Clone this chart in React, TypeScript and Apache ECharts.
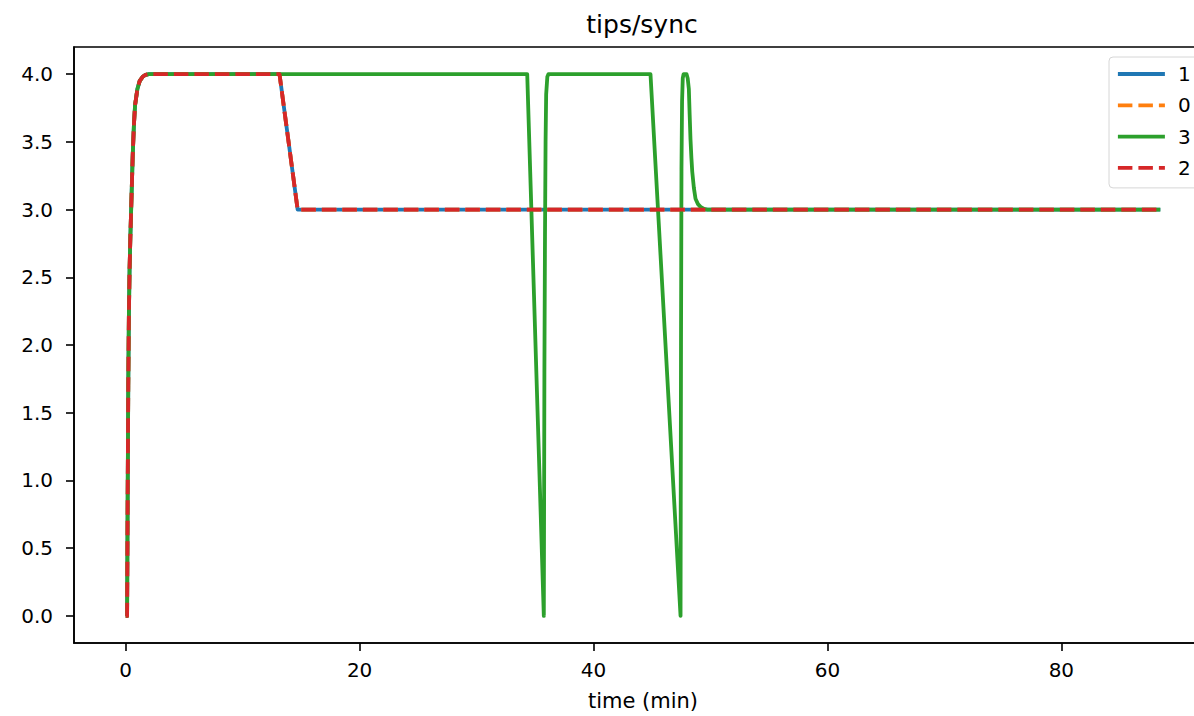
import React, { useEffect, useRef } from "react";
import * as echarts from "echarts";

// Series names in legend order
const seriesNames = ["1", "0", "3", "2"];
const seriesColors = ["#1f77b4", "#ff7f0e", "#2ca02c", "#d62728"];
const seriesDashed = [false, true, false, true];

// Shared trace for series 1, 0 and 2
const timesA = [0, 0.12, 0.17, 0.22, 0.27, 0.33, 0.4, 0.5, 0.6, 0.7, 0.8, 1.0, 1.2, 1.45, 1.7, 2.0, 13.15, 14.7, 88.46];
const valuesA = [0, 0, 0.9, 1.7, 2.2, 2.55, 2.8, 3.1, 3.4, 3.62, 3.77, 3.89, 3.95, 3.98, 3.995, 4.0, 4.0, 3.0, 3.0];

// Trace for series 3
const timesB = [0, 0.12, 0.17, 0.22, 0.27, 0.33, 0.4, 0.5, 0.6, 0.7, 0.8, 1.0, 1.2, 1.45, 1.7, 2.0,
  34.33, 35.75, 35.8, 35.85, 35.9, 35.95, 36.05, 36.15,
  44.87, 47.44, 47.48, 47.52, 47.57, 47.63, 47.7, 47.95, 48.05, 48.15, 48.22, 48.29, 48.37, 48.44, 48.58, 48.72, 48.93, 49.15, 49.45, 49.75, 88.46];
const valuesB = [0, 0, 0.9, 1.7, 2.2, 2.55, 2.8, 3.1, 3.4, 3.62, 3.77, 3.89, 3.95, 3.98, 3.995, 4.0,
  4.0, 0, 1.8, 2.8, 3.5, 3.85, 3.98, 4.0,
  4.0, 0, 2.0, 3.3, 3.8, 3.97, 4.0, 4.0, 3.97, 3.89, 3.7, 3.52, 3.38, 3.28, 3.16, 3.08, 3.04, 3.02, 3.005, 3.0, 3.0];

const xTicks = [0, 20, 40, 60, 80];
const yTicks = [0, 0.5, 1.0, 1.5, 2.0, 2.5, 3.0, 3.5, 4.0];

const titleText = "tips/sync";
const xAxisName = "time (min)";

const FONT = "DejaVu Sans";
const LINE_W = 3.8;

function zip(ts: number[], vs: number[]) {
  return ts.map((t, i) => [t, vs[i]]);
}

export default function App() {
  const ref = useRef<HTMLDivElement>(null);
  useEffect(() => {
    if (!ref.current) return;
    const chart = echarts.init(ref.current, undefined, { renderer: "svg" });
    const dataA = zip(timesA, valuesA);
    const dataB = zip(timesB, valuesB);
    const dataFor: Record<string, number[][]> = { "1": dataA, "0": dataA, "3": dataB, "2": dataA };
    chart.setOption({
      animation: false,
      backgroundColor: "#ffffff",
      textStyle: { fontFamily: FONT, color: "#000" },
      graphic: [
        {
          type: "text",
          x: 642,
          y: 24.7,
          style: {
            text: titleText,
            fontFamily: FONT,
            fontSize: 25,
            fill: "#000",
            textAlign: "center",
            textVerticalAlign: "middle",
          },
        },
      ],
      grid: {
        left: 74,
        top: 47,
        width: 1138,
        height: 600,
        show: true,
        borderColor: "#000",
        borderWidth: 1.6,
        backgroundColor: "transparent",
      },
      legend: {
        data: seriesNames,
        orient: "vertical",
        left: 1109,
        top: 57,
        itemWidth: 47,
        itemHeight: 20,
        itemGap: 11.3,
        padding: [7, 12, 10, 7],
        selectedMode: false,
        backgroundColor: "rgba(255,255,255,0.8)",
        borderColor: "#d6d6d6",
        borderWidth: 1,
        borderRadius: 4,
        itemStyle: { color: "transparent", borderColor: "transparent", borderWidth: 0, opacity: 0 },
        lineStyle: { width: LINE_W },
        textStyle: { fontFamily: FONT, fontSize: 20, color: "#000", lineHeight: 20, padding: [0, 0, 0, 8] },
      },
      xAxis: {
        type: "value",
        min: -4.42,
        max: 92.88,
        name: xAxisName,
        nameLocation: "middle",
        nameGap: 47,
        nameTextStyle: { fontFamily: FONT, fontSize: 21, color: "#000" },
        axisLine: { show: true, onZero: false, lineStyle: { color: "#000", width: 1.6 } },
        axisTick: { show: true, length: 8, lineStyle: { color: "#000", width: 1.6 }, customValues: xTicks },
        axisLabel: { fontFamily: FONT, fontSize: 20, color: "#000", margin: 17, customValues: xTicks, formatter: (v: number) => String(v) },
        splitLine: { show: false },
      },
      yAxis: {
        type: "value",
        min: -0.2,
        max: 4.2,
        axisLine: { show: true, onZero: false, lineStyle: { color: "#000", width: 1.6 } },
        axisTick: { show: true, length: 8, lineStyle: { color: "#000", width: 1.6 }, customValues: yTicks },
        axisLabel: { fontFamily: FONT, fontSize: 20, color: "#000", margin: 21, customValues: yTicks, formatter: (v: number) => v.toFixed(1) },
        splitLine: { show: false },
      },
      series: seriesNames.map((name, i) => ({
        name,
        type: "line",
        data: dataFor[name],
        showSymbol: false,
        symbol: "none",
        color: seriesColors[i],
        z: 2 + i,
        emphasis: { disabled: true },
        lineStyle: {
          color: seriesColors[i],
          width: LINE_W,
          type: seriesDashed[i] ? [14.5, 6] : "solid",
          cap: "butt",
          join: "round",
        },
      })),
    });
    return () => chart.dispose();
  }, []);
  return (
    <div style={{ position: "fixed", left: 0, top: 0, width: 1194, height: 716, overflow: "hidden", background: "#fff" }}>
      <div ref={ref} style={{ width: 1240, height: 716 }} />
    </div>
  );
}
